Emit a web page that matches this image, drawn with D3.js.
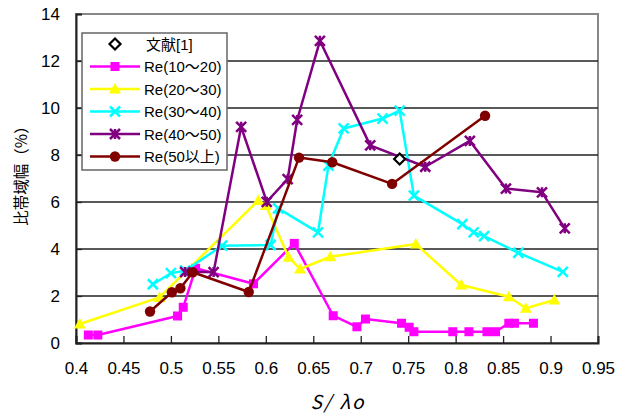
<!DOCTYPE html>
<html><head><meta charset="utf-8">
<script src="https://cdn.jsdelivr.net/npm/d3@7"></script>
<style>body{margin:0;background:#fff}svg{display:block}</style>
</head><body>
<svg id="c" width="633" height="414"></svg>
<script>
const xTicks = [0.4,0.45,0.5,0.55,0.6,0.65,0.7,0.75,0.8,0.85,0.9,0.95];
const yTicks = [0,2,4,6,8,10,12,14];

const refX = [0.741];
const refY = [7.83];

const re1020X = [0.413,0.423,0.507,0.513,0.526,0.587,0.630,0.671,0.696,0.705,0.743,0.751,0.756,0.797,0.814,0.833,0.842,0.856,0.862,0.882];
const re1020Y = [0.34,0.34,1.15,1.52,3.18,2.52,4.24,1.16,0.69,1.02,0.84,0.67,0.48,0.48,0.48,0.48,0.48,0.84,0.84,0.84];

const re2030X = [0.404,0.488,0.592,0.600,0.624,0.636,0.668,0.758,0.806,0.856,0.874,0.904];
const re2030Y = [0.81,1.94,6.06,5.85,3.65,3.15,3.67,4.21,2.47,1.97,1.48,1.83];

const re3040X = [0.481,0.500,0.515,0.554,0.605,0.613,0.655,0.666,0.682,0.723,0.741,0.756,0.807,0.819,0.830,0.866,0.913];
const re3040Y = [2.50,2.97,3.08,4.14,4.17,5.73,4.71,7.55,9.13,9.55,9.89,6.27,5.06,4.71,4.55,3.84,3.03];

const re4050X = [0.515,0.545,0.574,0.601,0.623,0.633,0.657,0.710,0.768,0.815,0.853,0.891,0.915];
const re4050Y = [3.02,3.02,9.2,6.01,6.97,9.49,12.86,8.41,7.5,8.6,6.57,6.41,4.88];

const re50X = [0.478,0.501,0.510,0.523,0.582,0.635,0.670,0.733,0.831];
const re50Y = [1.34,2.16,2.33,3.01,2.17,7.89,7.69,6.77,9.67];

const seriesNames = ["文献[1]","Re(10～20)","Re(20～30)","Re(30～40)","Re(40～50)","Re(50以上)"];
const seriesColors = ["#000000","#FF00FF","#FFFF00","#00FFFF","#800080","#800000"];
const seriesMarkers = ["diamond","square","triangle","cross","asterisk","circle"];
const seriesX = [refX,re1020X,re2030X,re3040X,re4050X,re50X];
const seriesY = [refY,re1020Y,re2030Y,re3040Y,re4050Y,re50Y];

const L=76,R=598,T=14,B=343;
const svg=d3.select("#c");
const x=d3.scaleLinear().domain([0.4,0.95]).range([L,R]);
const y=d3.scaleLinear().domain([0,14]).range([B,T]);

// plot frame
svg.append("rect").attr("x",L).attr("y",T).attr("width",R-L).attr("height",B-T)
  .attr("fill","#fff").attr("stroke","#888").attr("stroke-width",2);
// gridlines
svg.append("g").selectAll("line").data(yTicks.filter(d=>d>0&&d<14)).join("line")
  .attr("x1",L).attr("x2",R).attr("y1",d=>y(d)).attr("y2",d=>y(d))
  .attr("stroke","#222").attr("stroke-width",1.3);

// axes
const yAxis=d3.axisLeft(y).tickValues(yTicks).tickSize(-6).tickPadding(16).tickFormat(d3.format("d"));
const gy=svg.append("g").attr("transform",`translate(${L},0)`).call(yAxis);
const xAxis=d3.axisBottom(x).tickValues(xTicks).tickSize(-7).tickPadding(19).tickFormat(d=>String(+d.toFixed(2)));
const gx=svg.append("g").attr("transform",`translate(0,${B})`).call(xAxis);
[gx,gy].forEach(g=>{
  g.select(".domain").attr("stroke","#222").attr("stroke-width",2);
  g.selectAll(".tick line").attr("stroke","#222").attr("stroke-width",1.3);
  g.selectAll(".tick text").attr("fill","#000").attr("font-family","Liberation Sans, Arial, sans-serif").attr("font-size",17);
});

// axis titles
svg.append("text").attr("transform","translate(27,172) rotate(-90)").attr("text-anchor","middle")
  .attr("font-family","Noto Sans CJK JP, sans-serif").attr("font-size",15.5)
  .text("比帯域幅（%）");
svg.append("text").attr("x",337).attr("y",409).attr("text-anchor","middle")
  .attr("font-family","Noto Sans CJK JP, sans-serif").attr("font-style","italic").attr("font-size",19)
  .attr("textLength",53).attr("lengthAdjust","spacing")
  .text("S/ λo");

function marker(g,type,color,cx,cy){
  if(type==="square"){
    g.append("rect").attr("x",cx-4.5).attr("y",cy-4.5).attr("width",9).attr("height",9).attr("fill",color);
  } else if(type==="triangle"){
    g.append("path").attr("d",`M${cx},${cy-6}L${cx+6},${cy+4.5}L${cx-6},${cy+4.5}Z`).attr("fill",color);
  } else if(type==="cross"){
    g.append("path").attr("d",`M${cx-5},${cy-5}L${cx+5},${cy+5}M${cx-5},${cy+5}L${cx+5},${cy-5}`)
      .attr("stroke",color).attr("stroke-width",2.5);
  } else if(type==="asterisk"){
    g.append("path").attr("d",`M${cx-5},${cy-5}L${cx+5},${cy+5}M${cx-5},${cy+5}L${cx+5},${cy-5}M${cx},${cy-5}L${cx},${cy+5}`)
      .attr("stroke",color).attr("stroke-width",2.5);
  } else if(type==="circle"){
    g.append("circle").attr("cx",cx).attr("cy",cy).attr("r",5.2).attr("fill",color);
  } else if(type==="diamond"){
    g.append("path").attr("d",`M${cx},${cy-5.5}L${cx+5.5},${cy}L${cx},${cy+5.5}L${cx-5.5},${cy}Z`)
      .attr("fill","#fff").attr("stroke",color).attr("stroke-width",2.2);
  }
}

const line=d3.line().x(d=>x(d[0])).y(d=>y(d[1]));
const drawOrder=[1,2,3,4,5,0];
drawOrder.forEach(i=>{
  const pts=seriesX[i].map((v,j)=>[v,seriesY[i][j]]);
  const g=svg.append("g");
  if(i>0) g.append("path").attr("d",line(pts)).attr("fill","none").attr("stroke",seriesColors[i]).attr("stroke-width",2.5).attr("stroke-linejoin","round");
  pts.forEach(p=>marker(g,seriesMarkers[i],seriesColors[i],x(p[0]),y(p[1])));
});

// legend
const lg=svg.append("g");
lg.append("rect").attr("x",82).attr("y",33).attr("width",145).attr("height",137)
  .attr("fill","#fff").attr("stroke","#666").attr("stroke-width",1.5);
const rowY=[44,66.5,89,111.5,134,156.5];
seriesNames.forEach((n,i)=>{
  const gy2=rowY[i];
  if(i>0) lg.append("line").attr("x1",90).attr("x2",140).attr("y1",gy2).attr("y2",gy2).attr("stroke",seriesColors[i]).attr("stroke-width",2.5);
  marker(lg,seriesMarkers[i],seriesColors[i],115,gy2);
  lg.append("text").attr("x",i===0?146:144).attr("y",gy2+5.5)
    .attr("font-family","Liberation Sans, 'Noto Sans CJK JP', sans-serif").attr("font-size",15).text(n);
});
</script>
</body></html>
